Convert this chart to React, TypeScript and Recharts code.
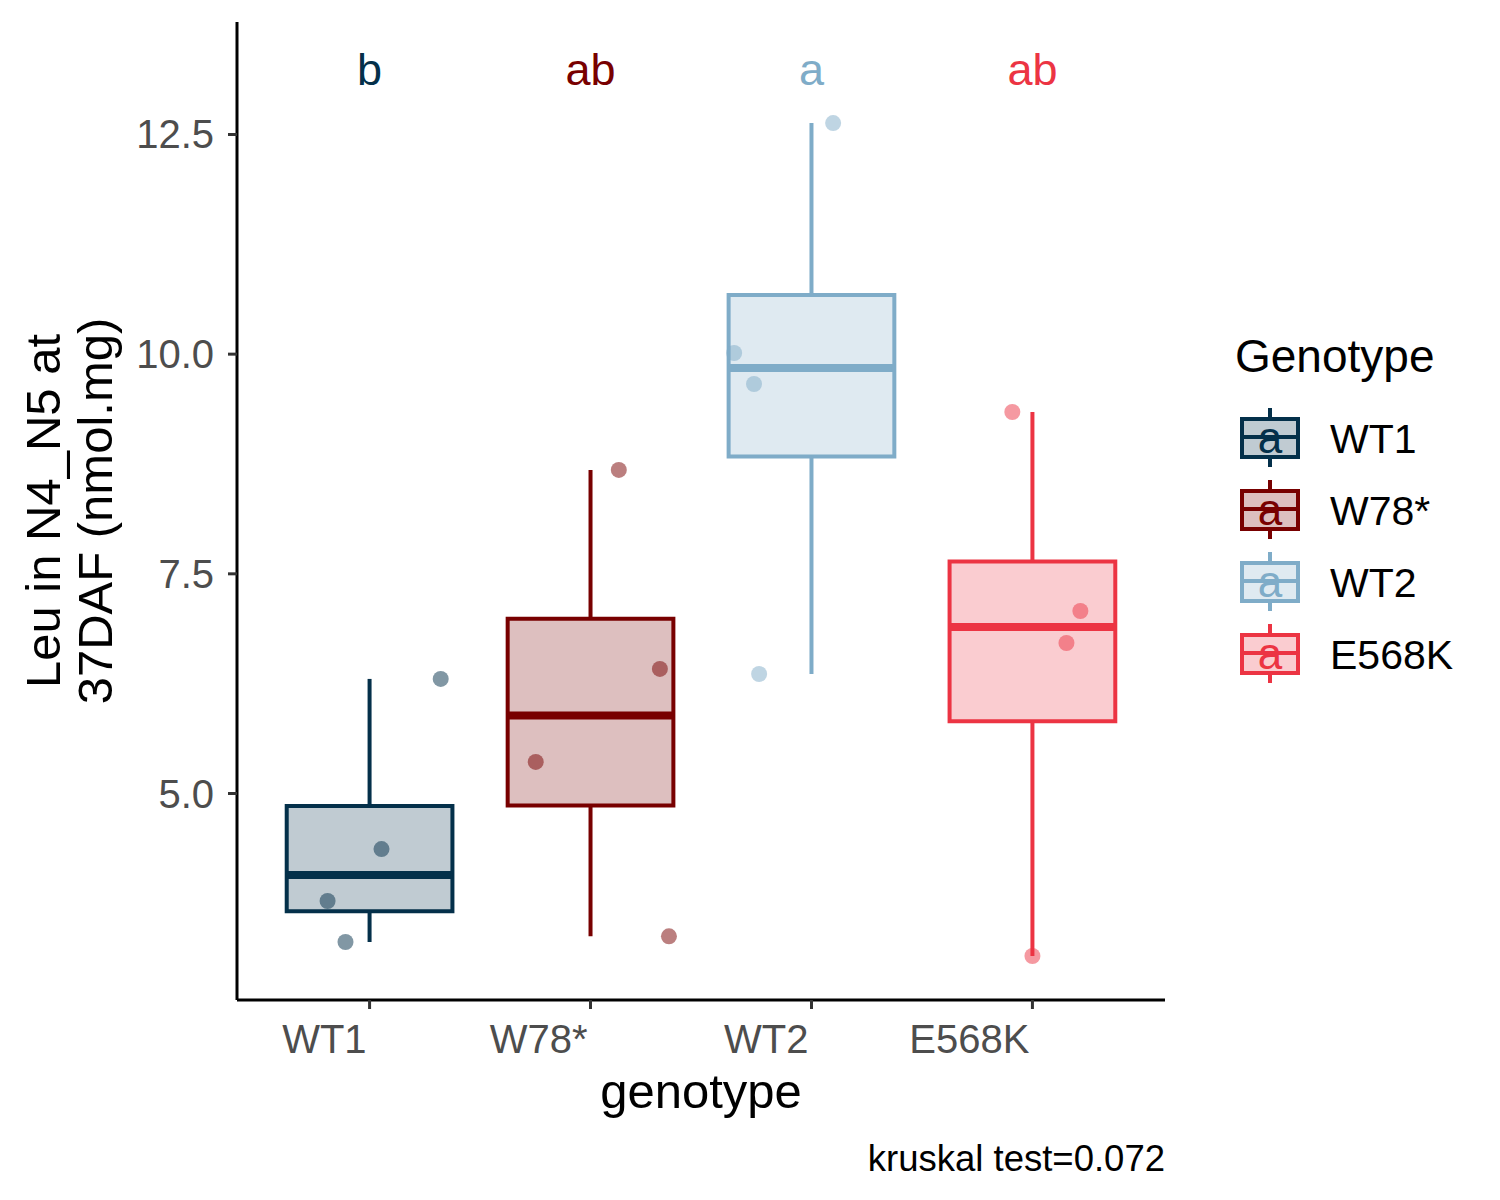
import React from 'react';
import {
  ComposedChart,
  XAxis,
  YAxis,
  Scatter,
  ReferenceArea,
  ReferenceLine,
  Label,
} from 'recharts';

// ---------- data ----------
const genotypes = ['WT1', 'W78*', 'WT2', 'E568K'];
const groupColors = ['#04304A', '#780000', '#7FACC8', '#EC3443'];
const whiskerLow = [3.31, 3.375, 6.36, 3.151];
const lowerQuartile = [3.66, 4.863, 8.835, 5.823];
const medianValues = [4.073, 5.889, 9.843, 6.895];
const upperQuartile = [4.858, 6.99, 10.673, 7.64];
const whiskerHigh = [6.304, 8.682, 12.63, 9.342];
const pointValues = [
  [3.31, 3.777, 4.368, 6.304],
  [5.359, 8.682, 6.418, 3.375],
  [10.013, 9.66, 6.36, 12.63],
  [9.342, 7.077, 6.713, 3.151],
];
const pointJitter = [
  [-0.109, -0.19, 0.054, 0.322],
  [-0.248, 0.128, 0.314, 0.355],
  [-0.35, -0.26, -0.237, 0.098],
  [-0.091, 0.217, 0.154, 0.0],
];
const groupLetters = ['b', 'ab', 'a', 'ab'];
const letterLevel = 13.234;
const xTicks = [1, 2, 3, 4];
const yTicks = [5, 7.5, 10, 12.5];
const xDomain = [0.4, 4.6];
const yDomain = [2.65, 13.78];
const boxHalfWidth = 0.375;
const yTitleLines = ['Leu in N4_N5 at', '37DAF (nmol.mg)'];
const xTitle = 'genotype';
const legendTitle = 'Genotype';
const caption = 'kruskal test=0.072';

const FONT = '"Liberation Sans", Arial, Helvetica, sans-serif';
const LINE_W = 4;
const MEDIAN_W = 8;

const pointSeries = genotypes.map((g, i) =>
  pointValues[i].map((v, j) => ({ x: i + 1 + pointJitter[i][j], y: v }))
);
const letterData = genotypes.map((g, i) => ({ x: i + 1, y: letterLevel, idx: i }));

// ---------- renderers ----------
const XTick = (props: any) => {
  const { x, y, payload } = props;
  return (
    <text x={x - 3} y={y} dy={42} textAnchor="end" fontSize={40} fill="#4D4D4D" fontFamily={FONT}>
      {genotypes[payload.value - 1]}
    </text>
  );
};

const YTick = (props: any) => {
  const { x, y, payload } = props;
  return (
    <text x={x - 12} y={y} dy={14} textAnchor="end" fontSize={40} fill="#4D4D4D" fontFamily={FONT}>
      {Number(payload.value).toFixed(1)}
    </text>
  );
};

const XTitle = (props: any) => {
  const vb = props.viewBox || { x: 237, y: 1000, width: 928, height: 200 };
  const cx = vb.x + vb.width / 2;
  return (
    <g>
      <text x={cx} y={vb.y + 108} textAnchor="middle" fontSize={49} fill="#000" fontFamily={FONT}>
        {xTitle}
      </text>
      <text x={vb.x + vb.width} y={vb.y + 171} textAnchor="end" fontSize={36.5} fill="#000" fontFamily={FONT}>
        {caption}
      </text>
    </g>
  );
};

const YTitle = (props: any) => {
  const vb = props.viewBox || { x: 0, y: 22, width: 237, height: 978 };
  const cy = vb.y + vb.height / 2;
  const xs = [60, 112];
  return (
    <g>
      {yTitleLines.map((line, k) => (
        <text
          key={k}
          x={xs[k]}
          y={cy}
          transform={`rotate(-90, ${xs[k]}, ${cy})`}
          textAnchor="middle"
          fontSize={49}
          fill="#000"
          fontFamily={FONT}
        >
          {line}
        </text>
      ))}
    </g>
  );
};

const LegendBlock = () => (
  <svg width={270} height={360} style={{ display: 'block', overflow: 'visible' }}>
    <text x={7} y={42} fontSize={46} fill="#000" fontFamily={FONT}>
      {legendTitle}
    </text>
    {genotypes.map((g, i) => {
      const cy = 108 + 72 * i;
      const c = groupColors[i];
      return (
        <g key={g}>
          <line x1={42} x2={42} y1={cy - 30} y2={cy + 29} stroke={c} strokeWidth={LINE_W} />
          <rect x={14} y={cy - 19} width={56} height={38} fill="#fff" />
          <rect x={14} y={cy - 19} width={56} height={38} fill={c} fillOpacity={0.25} stroke={c} strokeWidth={LINE_W} />
          <line x1={14} x2={70} y1={cy - 1} y2={cy - 1} stroke={c} strokeWidth={LINE_W} />
          <text x={42} y={cy + 15} textAnchor="middle" fontSize={44} fill={c} fontFamily={FONT}>
            a
          </text>
          <text x={102} y={cy + 15} fontSize={41} fill="#000" fontFamily={FONT}>
            {g}
          </text>
        </g>
      );
    })}
  </svg>
);

export default function App() {
  return (
    <div style={{ position: 'absolute', left: 0, top: 0, width: 1500, height: 1200, background: '#fff' }}>
      <ComposedChart
        width={1500}
        height={1200}
        margin={{ top: 22, right: 335, bottom: 0, left: 0 }}
        style={{ fontFamily: FONT }}
      >
        <XAxis
          type="number"
          dataKey="x"
          domain={xDomain}
          ticks={xTicks}
          allowDataOverflow
          interval={0}
          height={200}
          tickSize={9}
          axisLine={{ stroke: '#000', strokeWidth: 3 }}
          tickLine={{ stroke: '#333', strokeWidth: 3 }}
          tick={<XTick />}
        >
          <Label content={<XTitle />} />
        </XAxis>
        <YAxis
          type="number"
          dataKey="y"
          domain={yDomain}
          ticks={yTicks}
          allowDataOverflow
          interval={0}
          width={237}
          tickSize={9}
          axisLine={{ stroke: '#000', strokeWidth: 3 }}
          tickLine={{ stroke: '#333', strokeWidth: 3 }}
          tick={<YTick />}
        >
          <Label content={<YTitle />} />
        </YAxis>

        {genotypes.map((g, i) => (
          <ReferenceLine
            key={`wl-${g}`}
            segment={[
              { x: i + 1, y: whiskerLow[i] },
              { x: i + 1, y: lowerQuartile[i] },
            ]}
            stroke={groupColors[i]}
            strokeWidth={LINE_W}
          />
        ))}
        {genotypes.map((g, i) => (
          <ReferenceLine
            key={`wh-${g}`}
            segment={[
              { x: i + 1, y: upperQuartile[i] },
              { x: i + 1, y: whiskerHigh[i] },
            ]}
            stroke={groupColors[i]}
            strokeWidth={LINE_W}
          />
        ))}
        {genotypes.map((g, i) => (
          <ReferenceArea
            key={`box-${g}`}
            x1={i + 1 - boxHalfWidth}
            x2={i + 1 + boxHalfWidth}
            y1={lowerQuartile[i]}
            y2={upperQuartile[i]}
            fill={groupColors[i]}
            fillOpacity={0.25}
            stroke={groupColors[i]}
            strokeWidth={LINE_W}
          />
        ))}
        {genotypes.map((g, i) => (
          <ReferenceLine
            key={`med-${g}`}
            segment={[
              { x: i + 1 - boxHalfWidth, y: medianValues[i] },
              { x: i + 1 + boxHalfWidth, y: medianValues[i] },
            ]}
            stroke={groupColors[i]}
            strokeWidth={MEDIAN_W}
          />
        ))}

        {genotypes.map((g, i) => (
          <Scatter
            key={`pts-${g}`}
            name={g}
            data={pointSeries[i]}
            fill={groupColors[i]}
            isAnimationActive={false}
            shape={(p: any) => (
              <circle cx={p.cx} cy={p.cy} r={8} fill={groupColors[i]} fillOpacity={0.5} />
            )}
          />
        ))}

        <Scatter
          name="letters"
          data={letterData}
          legendType="none"
          isAnimationActive={false}
          shape={(p: any) => (
            <text
              x={p.cx}
              y={p.cy}
              dy={15}
              textAnchor="middle"
              fontSize={45}
              fill={groupColors[p.payload.idx]}
              fontFamily={FONT}
            >
              {groupLetters[p.payload.idx]}
            </text>
          )}
        />
      </ComposedChart>
      <div style={{ position: 'absolute', left: 1228, top: 330, width: 270, height: 360 }}>
        <LegendBlock />
      </div>
    </div>
  );
}
